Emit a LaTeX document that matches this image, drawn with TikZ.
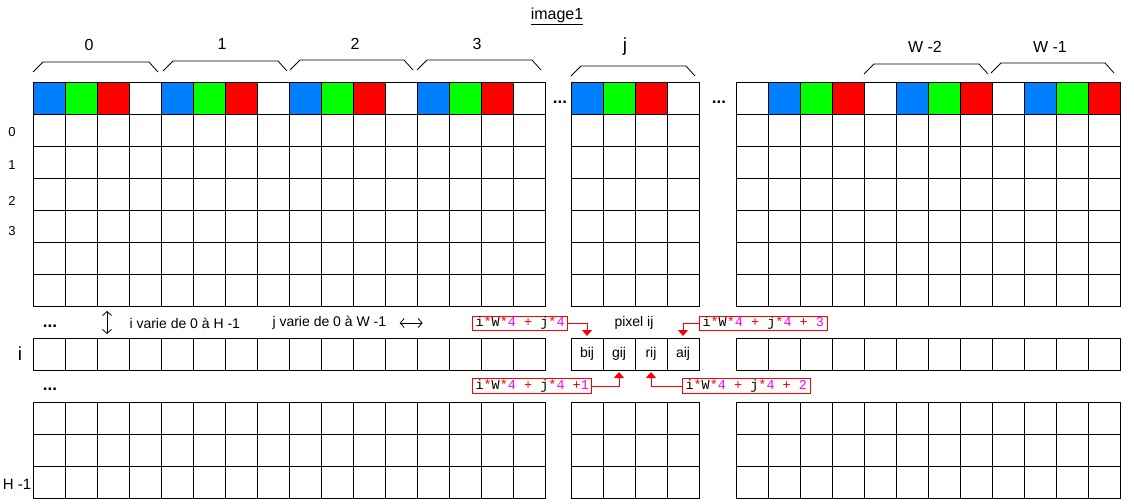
\documentclass[tikz,border=0pt]{standalone}
\usepackage{fontspec}
\setmainfont{Liberation Sans}
\setmonofont{Liberation Mono}
\newfontfamily\redtt[Color=FF0000]{Liberation Mono}
\newfontfamily\magtt[Color=FF00FF]{Liberation Mono}
\usetikzlibrary{arrows.meta}

\definecolor{pixblue}{RGB}{0,128,255}
\definecolor{pixgreen}{RGB}{0,255,0}
\definecolor{pixred}{RGB}{255,0,0}

\newcommand{\fs}[1]{\fontsize{#1}{#1}\selectfont}
% coloured b/g/r/a groups: x0, y0, number of groups
\newcommand{\pixgroups}[3]{%
  \foreach \k in {1,...,#3}{%
    \foreach \col [count=\n from 0] in {pixblue,pixgreen,pixred,white}{%
      \fill[\col] ({#1+128*(\k-1)+32*\n},#2) rectangle ++(32,32);}}}
% block of cells: x0, y0, columns, rows
\newcommand{\cellblock}[4]{%
  \foreach \cc in {1,...,#3}{%
    \foreach \rr in {1,...,#4}{%
      \draw[cell] ({#1+32*(\cc-1)},{#2+32*(\rr-1)}) rectangle ++(32,32);}}}
% brace over one pixel: x1, x2, y
\newcommand{\pixbrace}[3]{%
  \draw[brace] (#1,{#3+10}) -- ({#1+10},#3) -- ({#2-9},#3) -- (#2,{#3+10});}
% formula pieces (glyph colour from the font, no colour specials)
\newcommand{\rs}{{\redtt *}}
\newcommand{\rp}{{\redtt +}}
\newcommand{\mg}[1]{{\magtt #1}}

\begin{document}
\begin{tikzpicture}[x=1pt, y=-1pt]
\tikzset{
  cell/.style={draw, line width=1pt},
  brace/.style={draw, line width=0.8pt},
  lbl/.style={font=\fs{16}},
  rowlbl/.style={font=\fs{13}},
  note/.style={font=\fs{14}, anchor=west},
  dots/.style={font=\bfseries\fs{17}, anchor=base},
  pixcell/.style={draw, line width=1pt, minimum size=32pt, inner sep=0pt, font=\fs{14}},
  formula/.style={draw=pixred, line width=1pt, anchor=west, inner xsep=3pt,
    inner ysep=1.5pt, text height=9pt, text depth=2.5pt, font=\ttfamily\fs{13.5}},
  ptr/.style={draw=pixred, line width=1pt, -{Triangle[length=6pt,width=10pt]}, shorten >=1.5pt},
  dbl/.style={draw, line width=0.8pt,
    {Straight Barb[length=4pt,width=9pt]}-{Straight Barb[length=4pt,width=9pt]}}
}
\useasboundingbox (0,0) rectangle (1134,503);
% -------------------------------------------------
% Title
\node[font=\fs{16}] (title) at (557,16) {\underline{image1}};

% -------------------------------------------------
% Top rows (colour line + rows 0..)
\pixgroups{33}{82}{4}
\pixgroups{571}{82}{1}
\pixgroups{768}{82}{3}
\cellblock{33}{82}{16}{7}
\cellblock{571}{82}{4}{7}
\cellblock{736}{82}{12}{7}

% Row i
\cellblock{33}{338}{16}{1}
\cellblock{736}{338}{12}{1}
\node[pixcell] (bij) at (587,354) {bij};
\node[pixcell] (gij) at (619,354) {gij};
\node[pixcell] (rij) at (651,354) {rij};
\node[pixcell] (aij) at (683,354) {aij};

% Bottom rows (.. H-1)
\cellblock{33}{402}{16}{3}
\cellblock{571}{402}{4}{3}
\cellblock{736}{402}{12}{3}

% -------------------------------------------------
% Braces and column labels
\pixbrace{33}{158}{62}
\pixbrace{163}{287}{61}
\pixbrace{290}{413}{60}
\pixbrace{417}{541}{60}
\pixbrace{571}{695}{66}
\pixbrace{864}{988}{64}
\pixbrace{991}{1114}{63}
\node[lbl] (c0) at (89,45) {0};
\node[lbl] (c1) at (222,44) {1};
\node[lbl] (c2) at (355,44) {2};
\node[lbl] (c3) at (477,44) {3};
\node[font=\fs{19}] (cj) at (625,47) {j};
\node[lbl] (cw2) at (925,47) {W -2};
\node[lbl] (cw1) at (1050,47) {W -1};

% Row labels
\node[rowlbl] (r0) at (12,132) {0};
\node[rowlbl] (r1) at (12,165) {1};
\node[rowlbl] (r2) at (12,201) {2};
\node[rowlbl] (r3) at (12,231) {3};
\node[font=\fs{19}] (ri) at (20,354) {i};
\node[font=\fs{15}] (rh) at (17,484) {H -1};

% Dots
\node[dots] (dt1) at (560,103) {...};
\node[dots] (dt2) at (719,103) {...};
\node[dots] (dl1) at (50,327) {...};
\node[dots] (dl2) at (50,390) {...};

% -------------------------------------------------
% Notes
\draw[dbl] (107,311) -- (107,334);
\node[note] (iv) at (126,323) {i varie de 0 à H -1};
\node[note] (jv) at (269,323) {j varie de 0 à W -1};
\draw[dbl] ([xshift=10pt]jv.east) -- ++(23,0);
\node[font=\fs{14}] (pix) at (634,323) {pixel ij};

% -------------------------------------------------
% Offsets of the four bytes
\node[formula] (offb) at (472,323.5) {i\rs W\rs\mg{4} \rp{} j\rs\mg{4}};
\node[formula] (offa) at (699,323.5) {i\rs W\rs\mg{4} \rp{} j\rs\mg{4} \rp{} \mg{3}};
\node[formula] (offg) at (472,386) {i\rs W\rs\mg{4} \rp{} j\rs\mg{4} \rp\mg{1}};
\node[formula] (offr) at (682,386) {i\rs W\rs\mg{4} \rp{} j\rs\mg{4} \rp{} \mg{2}};

\draw[ptr] (offb.east) -| (bij.north);
\draw[ptr] (offa.west) -| (aij.north);
\draw[ptr] (offg.east) -| (gij.south);
\draw[ptr] (offr.west) -| (rij.south);
% -------------------------------------------------
\end{tikzpicture}
\end{document}
